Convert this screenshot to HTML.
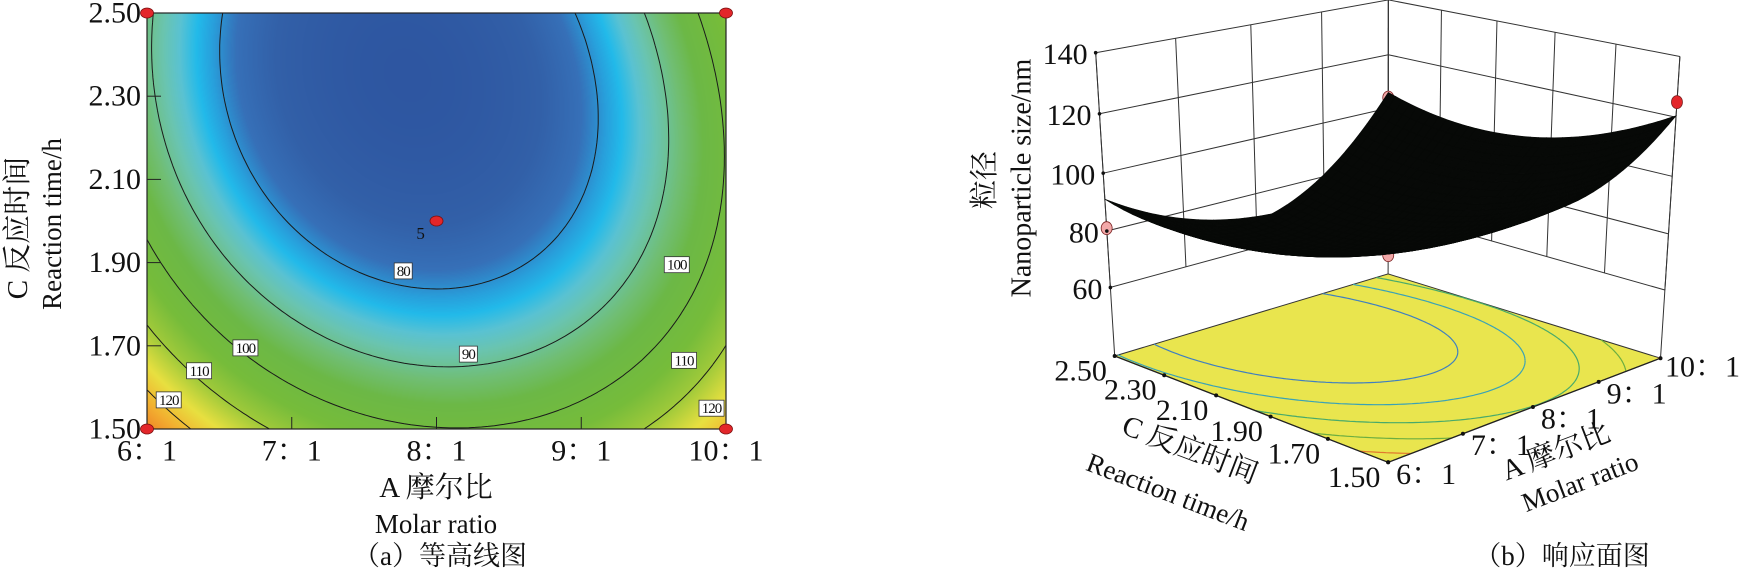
<!DOCTYPE html>
<html><head><meta charset="utf-8">
<style>
html,body{margin:0;padding:0;background:#fff;}
#root{position:relative;width:1749px;height:579px;overflow:hidden;font-family:"Liberation Serif","Noto Serif CJK SC",serif;}
canvas{position:absolute;left:147px;top:13px;}
svg{position:absolute;left:0;top:0;font-family:"Liberation Serif","Noto Serif CJK SC",serif;}
svg text{font-family:"Liberation Serif","Noto Serif CJK SC",serif;}
</style></head>
<body>
<div id="root">
<canvas id="heat" width="579" height="416"></canvas>
<svg id="sv" width="1749" height="579" viewBox="0 0 1749 579"></svg>
</div>
<script>
// ---------- data ----------
const modelCoef = [68.4, 44, 2.35, 6.97, -1.3, 8, 0.4, 1.85]; // m, c, C0, p, q, A0, s, Cref
const contourLevels = [80, 90, 100, 110, 120];
const xTickValues = [6, 7, 8, 9, 10];
const xTickLabels = ["6：1", "7：1", "8：1", "9：1", "10：1"];
const yTickValues = [1.5, 1.7, 1.9, 2.1, 2.3, 2.5];
const yTickLabels = ["1.50", "1.70", "1.90", "2.10", "2.30", "2.50"];
const zTickValues = [60, 80, 100, 120, 140];
const zTickLabels = ["60", "80", "100", "120", "140"];
const designA = [6, 6, 10, 10, 8];
const designC = [1.5, 2.5, 1.5, 2.5, 2.0];
const designVal = [128, 81, 125, 104, 72];
const designVisible3d = [false, true, true, true, true];
const labelLevel = [80, 90, 100, 110, 120, 100, 110, 120];
const labelA = [7.77, 8.22, 6.68, 6.36, 6.15, 9.66, 9.71, 9.9];
const labelC = [1.88, 1.68, 1.695, 1.64, 1.57, 1.895, 1.665, 1.55];

function model(A, C) {
  const [m, c, C0, p, q, A0, s, Cref] = modelCoef;
  const u = C0 - C;
  const a0 = A0 - s * (C - Cref);
  const d = A - a0;
  return m + c * u * u + d * d * (p + q * u);
}

const NS = "http://www.w3.org/2000/svg";
const sv = document.getElementById('sv');
const FONT = '"Liberation Serif","Noto Serif CJK SC",serif';
function el(tag, attrs, parent) {
  const e = document.createElementNS(NS, tag);
  for (const k in attrs) e.setAttribute(k, attrs[k]);
  (parent || sv).appendChild(e);
  return e;
}
function txt(str, x, y, size, anchor, parent, extra) {
  const t = el('text', Object.assign({x: x, y: y, 'font-size': size, 'font-family': FONT, 'text-anchor': anchor || 'middle', 'dominant-baseline': 'central', fill: '#111'}, extra || {}), parent);
  t.textContent = str;
  return t;
}

// ---------- 2D axes ----------
const PX0 = 147, PX1 = 726, PY0 = 13, PY1 = 429;
const xs = A => PX0 + (A - 6) / 4 * (PX1 - PX0);
const ys = C => PY1 - (C - 1.5) / 1 * (PY1 - PY0);

const stops = [[66,[44,82,158]],[74,[50,96,168]],[78,[54,112,184]],[81,[40,160,220]],[83,[34,186,234]],[85.5,[90,194,210]],[88,[106,196,176]],[92,[112,190,116]],[96,[108,184,70]],[104,[118,188,58]],[110,[160,202,58]],[116,[232,224,64]],[122,[242,176,48]],[131,[236,100,32]]];
function colorOf(v) {
  if (v <= stops[0][0]) return stops[0][1];
  for (let i = 1; i < stops.length; i++) {
    if (v <= stops[i][0]) {
      const t = (v - stops[i-1][0]) / (stops[i][0] - stops[i-1][0]);
      const a = stops[i-1][1], b = stops[i][1];
      return [a[0]+(b[0]-a[0])*t, a[1]+(b[1]-a[1])*t, a[2]+(b[2]-a[2])*t];
    }
  }
  return stops[stops.length-1][1];
}
(function drawHeat(){
  const cv = document.getElementById('heat');
  const ctx = cv.getContext('2d');
  const W = cv.width, H = cv.height;
  const img = ctx.createImageData(W, H);
  for (let j = 0; j < H; j++) for (let i = 0; i < W; i++) {
    const A = 6 + (i + 0.5) / W * 4, C = 2.5 - (j + 0.5) / H;
    const col = colorOf(model(A, C));
    const k = (j * W + i) * 4;
    img.data[k] = col[0]; img.data[k+1] = col[1]; img.data[k+2] = col[2]; img.data[k+3] = 255;
  }
  ctx.putImageData(img, 0, 0);
})();

function contourSegs(level, n) {
  const segs = [];
  const g = [];
  for (let j = 0; j <= n; j++) { g.push([]); for (let i = 0; i <= n; i++) g[j].push(model(6 + i / n * 4, 1.5 + j / n)); }
  const P = (i, j) => [6 + i / n * 4, 1.5 + j / n];
  function interp(i1, j1, i2, j2) {
    const v1 = g[j1][i1], v2 = g[j2][i2], t = (level - v1) / (v2 - v1);
    const a = P(i1, j1), b = P(i2, j2);
    return [a[0] + (b[0] - a[0]) * t, a[1] + (b[1] - a[1]) * t];
  }
  for (let j = 0; j < n; j++) for (let i = 0; i < n; i++) {
    const pts = [];
    const edges = [[i,j,i+1,j],[i+1,j,i+1,j+1],[i+1,j+1,i,j+1],[i,j+1,i,j]];
    for (const e of edges) {
      const v1 = g[e[1]][e[0]], v2 = g[e[3]][e[2]];
      if ((v1 - level) * (v2 - level) < 0) pts.push(interp(e[0], e[1], e[2], e[3]));
    }
    if (pts.length >= 2) segs.push([pts[0], pts[1]]);
    if (pts.length === 4) segs.push([pts[2], pts[3]]);
  }
  return segs;
}
const segCache = contourLevels.map(L => contourSegs(L, 90));

const g2 = el('g', { });
contourLevels.forEach((L, k) => {
  let d = '';
  segCache[k].forEach(s => { d += 'M' + xs(s[0][0]).toFixed(1) + ',' + ys(s[0][1]).toFixed(1) + 'L' + xs(s[1][0]).toFixed(1) + ',' + ys(s[1][1]).toFixed(1); });
  const p = el('path', {d: d, stroke: '#1a1a1a', 'stroke-width': 1, fill: 'none'}, g2);
  
  
});
el('rect', {x: PX0, y: PY0, width: PX1 - PX0, height: PY1 - PY0, fill: 'none', stroke: '#222', 'stroke-width': 1.2,  }, g2);
xTickValues.forEach((v, i) => {
  if (i > 0 && i < xTickValues.length - 1) el('line', {x1: xs(v), x2: xs(v), y1: PY1, y2: PY1 - 12, stroke: '#222'}, g2);
  const t = txt(xTickLabels[i], xs(v), 451, 30, 'middle', g2);
  
  
});
yTickValues.forEach((v, i) => {
  if (i > 0 && i < yTickValues.length - 1) el('line', {x1: PX0, x2: PX0 + 14, y1: ys(v), y2: ys(v), stroke: '#222'}, g2);
  const t = txt(yTickLabels[i], 141, ys(v), 30, 'end', g2);
  
  
});
labelLevel.forEach((L, i) => {
  const x = xs(labelA[i]), y = ys(labelC[i]);
  const w = L >= 100 ? 25 : 18;
  const r = el('rect', {x: x - w / 2, y: y - 8, width: w, height: 16, fill: '#fff', stroke: '#333', 'stroke-width': 0.8}, g2);
  
  
  const t = txt(String(L), x, y + 1, 15, 'middle', g2, {'letter-spacing': '-1'});
  
  
});
txt('5', xs(7.89), ys(1.97), 17, 'middle', g2, { });
designA.forEach((a, i) => {
  const e = el('ellipse', {cx: xs(a), cy: ys(designC[i]), rx: 6.5, ry: 5, fill: '#e3262a', stroke: '#7a1010', 'stroke-width': 0.8}, g2);
  
  
});
txt('A 摩尔比', 436, 488, 29, 'middle', sv, { });
txt('Molar ratio', 436, 524, 27, 'middle', sv, { });
txt('（a）等高线图', 440, 556, 27, 'middle', sv, { });
txt('C 反应时间', 18, 228, 29, 'middle', sv, {  transform: 'rotate(-90 18 228)'});
txt('Reaction time/h', 52, 224, 27, 'middle', sv, {  transform: 'rotate(-90 52 224)'});

// ---------- 3D ----------
const Zf = -0.3125;
const calib = [
 [0,0,1,1096,55],[0,0,0.75,1099,113],[0,0,0.5,1102,170],[0,0,0.25,1105,227],[0,0,0,1109,285],[0,0,Zf,1114,357],
 [1,1,1,1682,57],[1,1,0,1666,285],[1,1,Zf,1663,357],
 [1,0,1,1388,3],[1,0,Zf,1388,275],[0,1,Zf,1388,462],
 [0.5,1,Zf,1525,409],[0,0.4,Zf,1224,399],[0.25,1,Zf,1457,435],[0,0.8,Zf,1334,441]
];
const H = (function(){
  const n = 11, M = [], b = [];
  for (let i = 0; i < n; i++) { M.push(new Array(n).fill(0)); b.push(0); }
  const cu = 1388, cv = 250, sc = 300;
  calib.forEach(pt => {
    const [X, Y, Z] = pt; const u = (pt[3] - cu) / sc, v = (pt[4] - cv) / sc;
    const rows = [[[X,Y,Z,1,0,0,0,0,-u*X,-u*Y,-u*Z], u], [[0,0,0,0,X,Y,Z,1,-v*X,-v*Y,-v*Z], v]];
    rows.forEach(([r, rhs]) => { for (let i = 0; i < n; i++) { b[i] += r[i] * rhs; for (let j = 0; j < n; j++) M[i][j] += r[i] * r[j]; } });
  });
  for (let c = 0; c < n; c++) {
    let pv = c; for (let r = c + 1; r < n; r++) if (Math.abs(M[r][c]) > Math.abs(M[pv][c])) pv = r;
    [M[c], M[pv]] = [M[pv], M[c]]; [b[c], b[pv]] = [b[pv], b[c]];
    for (let r = 0; r < n; r++) if (r !== c) { const f = M[r][c] / M[c][c]; for (let j = c; j < n; j++) M[r][j] -= f * M[c][j]; b[r] -= f * b[c]; }
  }
  const p = b.map((v, i) => v / M[i][i]);
  return {p: p, cu: cu, cv: cv, sc: sc};
})();
function proj(X, Y, Z) {
  const p = H.p;
  const w = p[8] * X + p[9] * Y + p[10] * Z + 1;
  return [H.cu + H.sc * (p[0]*X + p[1]*Y + p[2]*Z + p[3]) / w, H.cv + H.sc * (p[4]*X + p[5]*Y + p[6]*Z + p[7]) / w];
}
const XA = A => (A - 6) / 4, YC = C => 2.5 - C, Zz = z => (z - 60) / 80;
const pA = (A, C, z) => proj(XA(A), YC(C), Zz(z));
const pf = (A, C) => proj(XA(A), YC(C), Zf);
const ptStr = a => a.map(q => q[0].toFixed(1) + ',' + q[1].toFixed(1)).join(' ');

const g3 = el('g', { });
const wall = el('g', {stroke: '#333', 'stroke-width': 1, fill: 'none',  }, g3);
zTickValues.forEach(z => {
  el('polyline', {points: ptStr([pA(6,2.5,z), pA(10,2.5,z), pA(10,1.5,z)])}, wall);
});
xTickValues.forEach(a => { el('line', {x1: pA(a,2.5,60)[0], y1: pA(a,2.5,60)[1], x2: pA(a,2.5,140)[0], y2: pA(a,2.5,140)[1]}, wall); });
yTickValues.forEach(c => { el('line', {x1: pA(10,c,60)[0], y1: pA(10,c,60)[1], x2: pA(10,c,140)[0], y2: pA(10,c,140)[1]}, wall); });
[[6,2.5],[10,2.5],[10,1.5]].forEach(([a,c]) => {
  const t = pA(a,c,140), b = pf(a,c);
  el('line', {x1: t[0], y1: t[1], x2: b[0], y2: b[1]}, wall);
});
const floor = el('polygon', {points: ptStr([pf(6,2.5), pf(10,2.5), pf(10,1.5), pf(6,1.5)]), fill: '#e9e54e', stroke: '#333', 'stroke-width': 1}, g3);


const floorCols = ['#3f7fc0', '#3aa2b6', '#48aa6a', '#6cae40', '#e0782e'];
contourLevels.forEach((L, k) => {
  let d = '';
  segCache[k].forEach(s => { const a = pf(s[0][0], s[0][1]), b = pf(s[1][0], s[1][1]); d += 'M' + a[0].toFixed(1) + ',' + a[1].toFixed(1) + 'L' + b[0].toFixed(1) + ',' + b[1].toFixed(1); });
  const p = el('path', {d: d, stroke: floorCols[k], 'stroke-width': 1.2, fill: 'none'}, g3);
  
  
});
el('polyline', {points: ptStr([pf(6,2.5), pf(6,1.5), pf(10,1.5)]), stroke: '#222', 'stroke-width': 1.3, fill: 'none'}, g3);
function drawDots(below) {
  designA.forEach((a, i) => {
    if (!designVisible3d[i]) return;
    const c = designC[i], v = designVal[i];
    const isBelow = v < model(a, c);
    if (isBelow !== below) return;
    const q = pA(a, c, v);
    const e = el('ellipse', {cx: q[0], cy: q[1], rx: 5.5, ry: 6.5, fill: isBelow ? '#f2a8a8' : '#e3262a', stroke: '#7a2020', 'stroke-width': 0.8}, g3);
    
    
  });
}
drawDots(true);
const surf = el('g', {fill: '#070907', stroke: '#070907', 'stroke-width': 0.6,  }, g3);
const N = 36;
for (let i = 0; i < N; i++) for (let j = 0; j < N; j++) {
  const a0 = 6 + i / N * 4, a1 = 6 + (i + 1) / N * 4, c0 = 1.5 + j / N, c1 = 1.5 + (j + 1) / N;
  el('polygon', {points: ptStr([pA(a0,c0,model(a0,c0)), pA(a1,c0,model(a1,c0)), pA(a1,c1,model(a1,c1)), pA(a0,c1,model(a0,c1))])}, surf);
}
drawDots(false);
zTickValues.forEach((z, i) => {
  const q = pA(6, 2.5, z);
  el('circle', {cx: q[0], cy: q[1], r: 1.8, fill: '#111'}, g3);
  const t = txt(zTickLabels[i], q[0] - 8, q[1] + 2, 30, 'end', g3);
  
  
});
yTickValues.forEach((c, i) => {
  const q = pf(6, c);
  el('circle', {cx: q[0], cy: q[1], r: 2, fill: '#111'}, g3);
  const t = txt(yTickLabels[i], q[0] - 34, q[1] + 15, 30, 'middle', g3);
  
  
});
xTickValues.forEach((a, i) => {
  const q = pf(a, 1.5);
  el('circle', {cx: q[0], cy: q[1], r: 2, fill: '#111'}, g3);
  const t = txt(xTickLabels[i], q[0] + (i === 4 ? 42 : 38), q[1] + (i === 4 ? 9 : 12), 30, 'middle', g3);
  
  
});
txt('粒径', 985, 180, 29, 'middle', sv, {  transform: 'rotate(-90 985 180)'});
txt('Nanoparticle size/nm', 1022, 178, 28, 'middle', sv, {  transform: 'rotate(-90 1022 178)'});
txt('C 反应时间', 1190, 450, 29, 'middle', sv, {  transform: 'rotate(21 1190 450)'});
txt('Reaction time/h', 1168, 492, 27, 'middle', sv, {  transform: 'rotate(21 1168 492)'});
txt('A 摩尔比', 1556, 452, 29, 'middle', sv, {  transform: 'rotate(-21 1556 452)'});
txt('Molar ratio', 1580, 482, 27, 'middle', sv, {  transform: 'rotate(-21 1580 482)'});
txt('（b）响应面图', 1562, 556, 27, 'middle', sv, { });
</script>
</body></html>
